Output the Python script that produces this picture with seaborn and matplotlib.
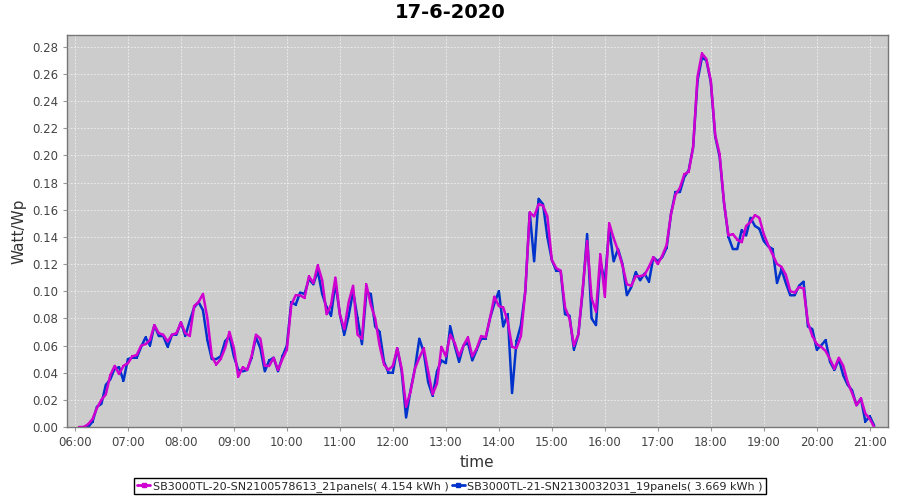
import numpy as np
import pandas as pd
import matplotlib
matplotlib.use("Agg")
import matplotlib.pyplot as plt
from matplotlib.ticker import FuncFormatter, MultipleLocator
import seaborn as sns

# 5-minute samples, 06:05 .. 21:05
start_minute = 6 * 60 + 5
step_minutes = 5

sb20_values = [
    0.000, 0.000, 0.002, 0.006, 0.014, 0.020, 0.024, 0.038, 0.045, 0.039, 0.045,
    0.047, 0.052, 0.053, 0.060, 0.061, 0.064, 0.075, 0.069, 0.068, 0.063, 0.068, 0.069,
    0.077, 0.069, 0.067, 0.089, 0.092, 0.098, 0.080, 0.052, 0.046, 0.050, 0.058, 0.070,
    0.058, 0.037, 0.044, 0.042, 0.052, 0.068, 0.065, 0.045, 0.045, 0.051, 0.042, 0.050,
    0.057, 0.090, 0.097, 0.097, 0.095, 0.111, 0.106, 0.119, 0.108, 0.083, 0.090, 0.110,
    0.083, 0.072, 0.092, 0.104, 0.068, 0.065, 0.105, 0.090, 0.080, 0.060, 0.046, 0.042,
    0.045, 0.058, 0.043, 0.015, 0.026, 0.043, 0.051, 0.058, 0.041, 0.024, 0.032, 0.059,
    0.052, 0.068, 0.062, 0.052, 0.060, 0.066, 0.052, 0.058, 0.067, 0.066, 0.080, 0.096,
    0.089, 0.088, 0.078, 0.059, 0.058, 0.067, 0.100, 0.158, 0.155, 0.164, 0.163, 0.155,
    0.123, 0.117, 0.115, 0.088, 0.080, 0.060, 0.068, 0.102, 0.137, 0.095, 0.085, 0.127,
    0.096, 0.150, 0.139, 0.130, 0.119, 0.105, 0.104, 0.111, 0.111, 0.112, 0.118, 0.125,
    0.120, 0.126, 0.134, 0.157, 0.171, 0.176, 0.186, 0.188, 0.206, 0.258, 0.275, 0.271,
    0.255, 0.215, 0.201, 0.165, 0.141, 0.142, 0.138, 0.136, 0.148, 0.151, 0.156, 0.154,
    0.142, 0.134, 0.127, 0.120, 0.118, 0.112, 0.100, 0.099, 0.103, 0.102, 0.077, 0.067,
    0.061, 0.059, 0.056, 0.050, 0.043, 0.051, 0.045, 0.033, 0.025, 0.016, 0.021, 0.010,
    0.006, 0.000,
]

sb21_values = [
    np.nan, 0.000, 0.000, 0.004, 0.015, 0.017, 0.031, 0.035, 0.043, 0.044, 0.034,
    0.050, 0.051, 0.051, 0.059, 0.066, 0.060, 0.075, 0.067, 0.067, 0.059, 0.068, 0.068,
    0.077, 0.067, 0.078, 0.088, 0.092, 0.086, 0.064, 0.050, 0.050, 0.052, 0.063, 0.067,
    0.052, 0.042, 0.041, 0.042, 0.051, 0.066, 0.058, 0.041, 0.049, 0.051, 0.041, 0.052,
    0.060, 0.092, 0.090, 0.099, 0.098, 0.109, 0.105, 0.115, 0.098, 0.088, 0.082, 0.106,
    0.083, 0.068, 0.082, 0.100, 0.080, 0.061, 0.099, 0.098, 0.074, 0.070, 0.048, 0.040,
    0.040, 0.058, 0.041, 0.007, 0.027, 0.043, 0.065, 0.055, 0.033, 0.023, 0.041, 0.049,
    0.047, 0.074, 0.060, 0.048, 0.060, 0.062, 0.049, 0.057, 0.065, 0.065, 0.080, 0.091,
    0.100, 0.074, 0.083, 0.025, 0.063, 0.075, 0.100, 0.158, 0.122, 0.168, 0.164, 0.140,
    0.123, 0.115, 0.115, 0.083, 0.082, 0.057, 0.068, 0.100, 0.142, 0.080, 0.075, 0.122,
    0.107, 0.146, 0.122, 0.131, 0.120, 0.097, 0.103, 0.114, 0.108, 0.113, 0.107, 0.125,
    0.122, 0.125, 0.132, 0.157, 0.173, 0.173, 0.184, 0.189, 0.206, 0.255, 0.272, 0.270,
    0.254, 0.214, 0.199, 0.165, 0.140, 0.131, 0.131, 0.145, 0.141, 0.154, 0.148, 0.146,
    0.137, 0.133, 0.131, 0.106, 0.116, 0.106, 0.097, 0.097, 0.104, 0.107, 0.074, 0.072,
    0.057, 0.060, 0.064, 0.048, 0.042, 0.050, 0.038, 0.031, 0.027, 0.016, 0.021, 0.004,
    0.008, 0.001,
]

series_labels = [
    "SB3000TL-20-SN2100578613_21panels( 4.154 kWh )",
    "SB3000TL-21-SN2130032031_19panels( 3.669 kWh )",
]
series_colors = ["#D000D0", "#0033CC"]
hour_ticks = list(range(6, 22))

hours = (start_minute + step_minutes * np.arange(len(sb20_values))) / 60.0
df = pd.DataFrame({"hour": hours, "sb20": sb20_values, "sb21": sb21_values})

sns.set_style("darkgrid", {"axes.facecolor": "#CCCCCC", "grid.color": "#F2F2F2",
                           "axes.edgecolor": "#777777"})
plt.rcParams["font.family"] = ["DejaVu Sans"]

fig = plt.figure(figsize=(9, 5), dpi=100)
ax = fig.add_axes([0.0744, 0.146, 0.912, 0.784])

# blue first so magenta sits on top
sns.lineplot(data=df, x="hour", y="sb21", ax=ax, color=series_colors[1],
             linewidth=1.8, marker="s", markersize=1.8, markeredgewidth=0)
sns.lineplot(data=df, x="hour", y="sb20", ax=ax, color=series_colors[0],
             linewidth=1.8, marker="s", markersize=1.8, markeredgewidth=0)

ax.set_xlim(5.85, 21.34)
ax.set_ylim(0, 0.2886)
ax.set_xticks(hour_ticks)
ax.xaxis.set_major_formatter(FuncFormatter(lambda v, p: f"{int(v):02d}:00"))
ax.yaxis.set_major_locator(MultipleLocator(0.02))
ax.yaxis.set_major_formatter(FuncFormatter(lambda v, p: f"{v:.2f}"))
ax.tick_params(axis="both", labelsize=8.5, labelcolor="#444444", length=3,
               color="#999999", bottom=True, left=True)
ax.grid(True, linewidth=0.6, linestyle=(0, (2, 2)))

ax.set_xlabel("time", fontsize=11, color="#333333")
ax.set_ylabel("Watt/Wp", fontsize=11, color="#333333")
for s in ax.spines.values():
    s.set_color("#777777")
    s.set_linewidth(1)

fig.suptitle("17-6-2020", fontsize=14, fontweight="bold", color="black", y=0.995)

handles = [
    plt.Line2D([], [], color=series_colors[0], linewidth=2, marker="s", markersize=3),
    plt.Line2D([], [], color=series_colors[1], linewidth=2, marker="s", markersize=3),
]
leg = fig.legend(handles, series_labels, loc="lower center", bbox_to_anchor=(0.5, 0.0),
                 ncol=2, fontsize=8, frameon=True, fancybox=False, handlelength=1.2,
                 handletextpad=0.2, columnspacing=0.3, borderpad=0.25)
leg.get_frame().set_edgecolor("black")
leg.get_frame().set_facecolor("white")
leg.get_frame().set_alpha(1)
leg.get_frame().set_linewidth(1)

fig.savefig("out.png", dpi=100, facecolor="white")
